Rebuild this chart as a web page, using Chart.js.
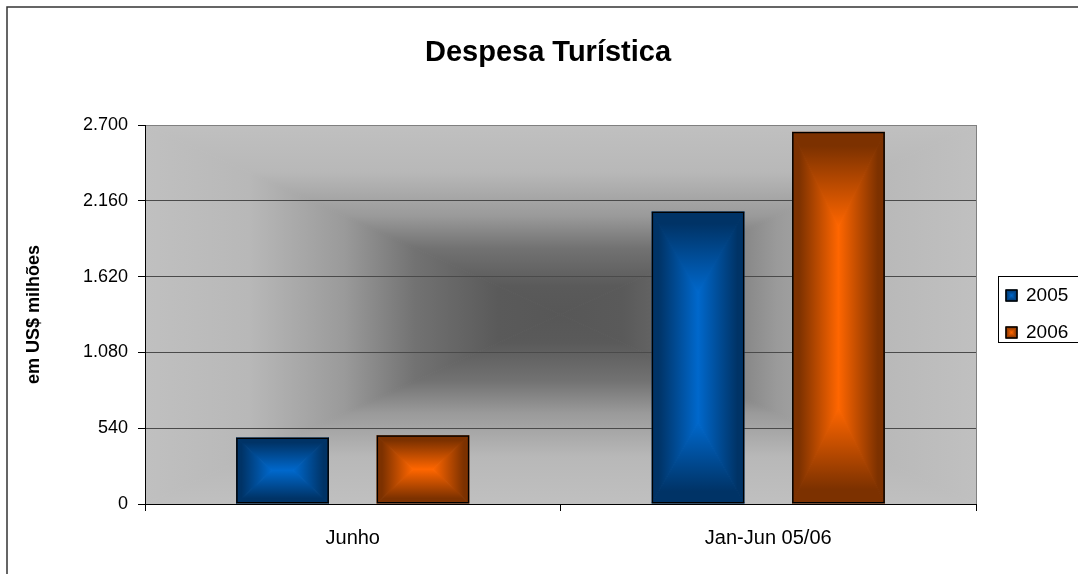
<!DOCTYPE html>
<html>
<head>
<meta charset="utf-8">
<script src="https://cdn.jsdelivr.net/npm/chart.js@4.4.0/dist/chart.umd.min.js"></script>
<style>
  html, body { margin: 0; padding: 0; background: #fff; }
  canvas { display: block; }
</style>
</head>
<body>
<canvas id="chart" width="1078" height="574"></canvas>
<script>
var categories = ["Junho", "Jan-Jun 05/06"];
var seriesNames = ["2005", "2006"];
var values2005 = [473, 2084];
var values2006 = [490, 2652];
var yTicks = [0, 540, 1080, 1620, 2160, 2700];

var FONT = "'Liberation Sans', Arial, sans-serif";
var edgeColors = ["#003366", "#7c3100"];
var centerColors = ["#0068cc", "#ff6600"];
var plotStops = [[0, "#c0c0c0"], [0.25, "#b8b8b8"], [0.48, "#9a9a9a"], [0.65, "#727272"], [0.85, "#5a5a5a"], [1, "#575757"]];

function fmt(v) {
    return String(v).replace(/\B(?=(\d{3})+(?!\d))/g, ".");
}

function tri(ctx, pts, gx0, gy0, gx1, gy1, stops) {
    var g = ctx.createLinearGradient(gx0, gy0, gx1, gy1);
    stops.forEach(function (st) { g.addColorStop(st[0], st[1]); });
    ctx.beginPath();
    ctx.moveTo(pts[0][0], pts[0][1]);
    for (var i = 1; i < pts.length; i++) ctx.lineTo(pts[i][0], pts[i][1]);
    ctx.closePath();
    ctx.fillStyle = g;
    ctx.strokeStyle = g;
    ctx.lineWidth = 1;
    ctx.fill();
    ctx.stroke();
}

// gradient from each edge in to an inner segment; dx/dy = depth from the sides/top-bottom
function insetFill(ctx, x0, y0, x1, y1, dx, dy, stops) {
    var cx = (x0 + x1) / 2, cy = (y0 + y1) / 2;
    var ix0 = x0 + dx, ix1 = x1 - dx, iy0 = y0 + dy, iy1 = y1 - dy;
    if (ix1 < ix0) { ix0 = ix1 = cx; }
    if (iy1 < iy0) { iy0 = iy1 = cy; }
    tri(ctx, [[x0, y0], [x1, y0], [ix1, iy0], [ix0, iy0]], cx, y0, cx, iy0, stops);
    tri(ctx, [[x1, y0], [x1, y1], [ix1, iy1], [ix1, iy0]], x1, cy, ix1, cy, stops);
    tri(ctx, [[x1, y1], [x0, y1], [ix0, iy1], [ix1, iy1]], cx, y1, cx, iy1, stops);
    tri(ctx, [[x0, y1], [x0, y0], [ix0, iy0], [ix0, iy1]], x0, cy, ix0, cy, stops);
}

function centerFill(ctx, x0, y0, x1, y1, stops) {
    insetFill(ctx, x0, y0, x1, y1, (x1 - x0) / 2, (y1 - y0) / 2, stops);
}

function barFill(ctx, x0, y0, x1, y1, stops) {
    var hw = (x1 - x0) / 2, hh = (y1 - y0) / 2;
    var m = Math.min(hw, hh);
    var dx = hw > hh ? m + (hw - m) * 0.2 : hw;
    var dy = hh > hw ? m + (hh - m) * 0.35 : hh;
    insetFill(ctx, x0, y0, x1, y1, dx, dy, stops);
}

function barStops(i) {
    return [[0, edgeColors[i]], [0.15, edgeColors[i]], [1, centerColors[i]]];
}

var decor = {
    id: "decor",
    beforeDraw: function (chart) {
        var ctx = chart.ctx, a = chart.chartArea;
        ctx.save();
        ctx.fillStyle = "#fff";
        ctx.fillRect(0, 0, chart.width, chart.height);
        ctx.strokeStyle = "#333";
        ctx.lineWidth = 1.5;
        ctx.strokeRect(7, 7, chart.width + 20, chart.height + 20);
        ctx.beginPath();
        ctx.rect(a.left, a.top, a.right - a.left, a.bottom - a.top);
        ctx.clip();
        centerFill(ctx, a.left, a.top, a.right, a.bottom, plotStops);
        ctx.restore();
        ctx.save();
        ctx.strokeStyle = "#808080";
        ctx.lineWidth = 1;
        ctx.beginPath();
        ctx.moveTo(a.right + 0.5, a.top);
        ctx.lineTo(a.right + 0.5, a.bottom);
        ctx.stroke();
        ctx.restore();
    },
    beforeDatasetsDraw: function (chart) {
        var ctx = chart.ctx;
        chart.data.datasets.forEach(function (ds, i) {
            var meta = chart.getDatasetMeta(i);
            meta.data.forEach(function (bar) {
                var p = bar.getProps(["x", "y", "base", "width"], true);
                ctx.save();
                ctx.beginPath();
                ctx.rect(p.x - p.width / 2, p.y, p.width, p.base - p.y);
                ctx.clip();
                barFill(ctx, p.x - p.width / 2, p.y, p.x + p.width / 2, p.base, barStops(i));
                ctx.restore();
            });
        });
    },
    afterDraw: function (chart) {
        var ctx = chart.ctx;
        var bx = 998, by = 276, bh = 66;
        ctx.save();
        ctx.fillStyle = "#fff";
        ctx.fillRect(bx, by, 100, bh);
        ctx.strokeStyle = "#000";
        ctx.lineWidth = 1;
        ctx.strokeRect(bx + 0.5, by + 0.5, 100, bh);
        ctx.font = "19px " + FONT;
        ctx.textBaseline = "middle";
        chart.data.datasets.forEach(function (ds, i) {
            var cy = by + 19 + i * 37;
            barFill(ctx, bx + 8, cy - 5, bx + 19, cy + 6, [[0, edgeColors[i]], [1, centerColors[i]]]);
            ctx.strokeStyle = "#000";
            ctx.lineWidth = 1.5;
            ctx.strokeRect(bx + 8, cy - 5, 11, 11);
            ctx.fillStyle = "#000";
            ctx.fillText(ds.label, bx + 28, cy + 1);
        });
        ctx.restore();
    }
};

new Chart(document.getElementById("chart"), {
    type: "bar",
    data: {
        labels: categories,
        datasets: [
            { label: seriesNames[0], data: values2005 },
            { label: seriesNames[1], data: values2006 }
        ].map(function (d) {
            d.backgroundColor = "rgba(0,0,0,0)";
            d.borderColor = "#000";
            d.borderWidth = 1.5;
            d.borderSkipped = false;
            d.categoryPercentage = 0.676;
            d.barPercentage = 0.661;
            return d;
        })
    },
    options: {
        responsive: false,
        devicePixelRatio: 1,
        animation: false,
        layout: { padding: { left: 18, right: 0, top: 0, bottom: 0 } },
        plugins: {
            legend: { display: false },
            tooltip: { enabled: false },
            title: {
                display: true,
                text: "Despesa Turística",
                color: "#000",
                font: { family: FONT, size: 29, weight: "bold" },
                padding: { top: 36, bottom: 54.2 }
            }
        },
        scales: {
            x: {
                grid: { offset: true, drawOnChartArea: false, drawTicks: true, tickLength: 7, tickColor: "#000" },
                border: { color: "#000", width: 1 },
                ticks: { color: "#000", font: { family: FONT, size: 20 }, padding: 15, maxRotation: 0 },
                afterFit: function (s) { s.height = 70; }
            },
            y: {
                min: 0,
                max: 2700,
                afterBuildTicks: function (s) { s.ticks = yTicks.map(function (v) { return { value: v }; }); },
                grid: {
                    color: function (c) { return c.tick && c.tick.value === 2700 ? "#808080" : "#4a4a4a"; },
                    tickColor: "#000",
                    tickLength: 7,
                    lineWidth: 1
                },
                border: { color: "#000", width: 1 },
                ticks: { color: "#000", font: { family: FONT, size: 18 }, padding: 10, callback: function (v) { return fmt(v); } },
                title: {
                    display: true,
                    text: "em US$ milhões",
                    color: "#000",
                    font: { family: FONT, size: 18, weight: "bold" },
                    padding: { top: 5, bottom: 0 }
                },
                afterFit: function (s) { s.width = 127; }
            },
            yRight: {
                position: "right",
                grid: { display: false },
                border: { display: false },
                ticks: { display: false },
                afterFit: function (s) { s.width = 102; }
            }
        }
    },
    plugins: [decor]
});
</script>
</body>
</html>
